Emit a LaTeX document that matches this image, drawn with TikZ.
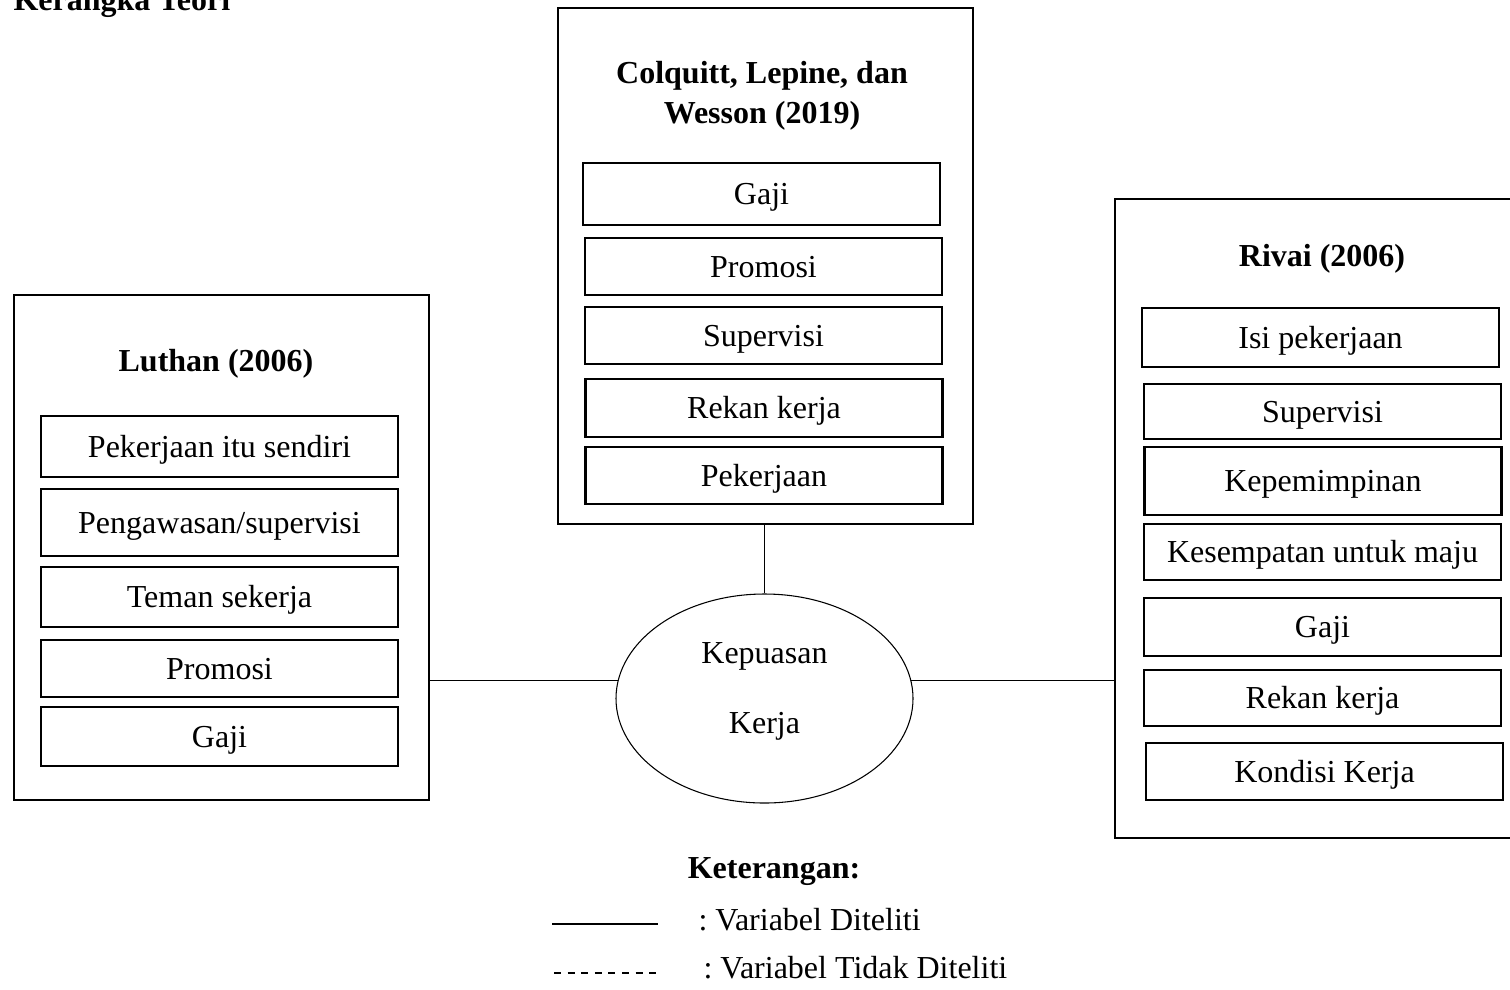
\documentclass[tikz,border=0pt]{standalone}
\usepackage{fontspec}
\setmainfont{Liberation Serif}
\usetikzlibrary{shapes.geometric}

\newcommand{\pxu}{0.375pt}

\tikzset{
  txt/.style={font=\fontsize{12}{14.4}\selectfont},
  ttl/.style={font=\fontsize{12}{15}\selectfont\bfseries, align=center},
  outer/.style={draw, line width=0.8pt, inner sep=0pt},
  item/.style={draw, line width=1pt, txt, inner sep=0pt, text height=7.9pt,
    text depth=0pt, minimum width=357*\pxu},
  link/.style={line width=0.5pt},
}

\begin{document}
\begin{tikzpicture}[x=\pxu, y=-\pxu]
\useasboundingbox (0,0) rectangle (1510,989);

% title, cut at the top
\node[ttl, anchor=base west, inner sep=0pt] (judul) at (13,10) {Kerangka Teori};

% outer boxes
\node[outer, minimum width=415*\pxu, minimum height=505*\pxu] (luthan) at (221.5,547.5) {};
\node[outer, minimum width=415*\pxu, minimum height=516*\pxu] (colq) at (765.5,266) {};
\node[outer, minimum width=397*\pxu, minimum height=639*\pxu] (rivai) at (1313.5,518.5) {};

\node[ttl] (tL) at (216,364) {Luthan (2006)};
\node[ttl] (tC) at (762,96) {Colquitt, Lepine, dan\\Wesson (2019)};
\node[ttl] (tR) at (1322,259) {Rivai (2006)};

% Luthan items
\foreach \xx/\yy/\hh/\lbl [count=\i] in {219.5/446.5/61/Pekerjaan itu sendiri,
    219.5/522.5/67/{Pengawasan/supervisi}, 219.5/597/60/Teman sekerja,
    219.5/668.5/57/Promosi, 219.5/736.5/59/Gaji}
  \node[item, minimum height=\hh*\pxu] (L\i) at (\xx,\yy) {\lbl};

% Colquitt items
\foreach \xx/\yy/\hh/\lbl [count=\i] in {761.5/194/62/Gaji, 763.5/266.5/57/Promosi,
    763.5/335.5/57/Supervisi, 764/408/58/Rekan kerja, 764/475.5/57/Pekerjaan}
  \node[item, minimum height=\hh*\pxu] (C\i) at (\xx,\yy) {\lbl};

% Rivai items
\foreach \xx/\yy/\hh/\lbl [count=\i] in {1320.5/337.5/59/Isi pekerjaan,
    1322.5/411.5/55/Supervisi, 1323/481/68/Kepemimpinan,
    1322.5/552/56/Kesempatan untuk maju, 1322.5/627/58/Gaji,
    1322.5/698/56/Rekan kerja, 1324.5/771.5/57/Kondisi Kerja}
  \node[item, minimum height=\hh*\pxu] (R\i) at (\xx,\yy) {\lbl};

% centre
\node[draw, ellipse, line width=0.4pt, inner sep=0pt,
  minimum width=297*\pxu, minimum height=209*\pxu] (kp) at (764.5,698.5) {};
\node[txt, anchor=base] (kp1) at (764.5,663) {Kepuasan};
\node[txt, anchor=base] (kp2) at (764.5,733) {Kerja};

\draw[link] (luthan.east |- kp.173) -- (kp.173);
\draw[link] (kp.7) -- (rivai.west |- kp.7);
\draw[link] (colq.south -| kp.north) -- (kp.north);

% legend
\node[ttl, anchor=base] (ket) at (774,878) {Keterangan:};
\coordinate (a1) at (552,924);
\coordinate (a2) at (658,924);
\draw[line width=0.75pt] (a1) -- (a2);
\node[txt, anchor=base west, inner sep=0pt] (k1) at (698,930) {:\ Variabel Diteliti};
\coordinate (b1) at (554,973);
\coordinate (b2) at (656,973);
\draw[line width=0.75pt, dash pattern=on 2.6pt off 2.5pt] (b1) -- (b2);
\node[txt, anchor=base west, inner sep=0pt] (k2) at (703,978) {:\ Variabel Tidak Diteliti};
\end{tikzpicture}
\end{document}
